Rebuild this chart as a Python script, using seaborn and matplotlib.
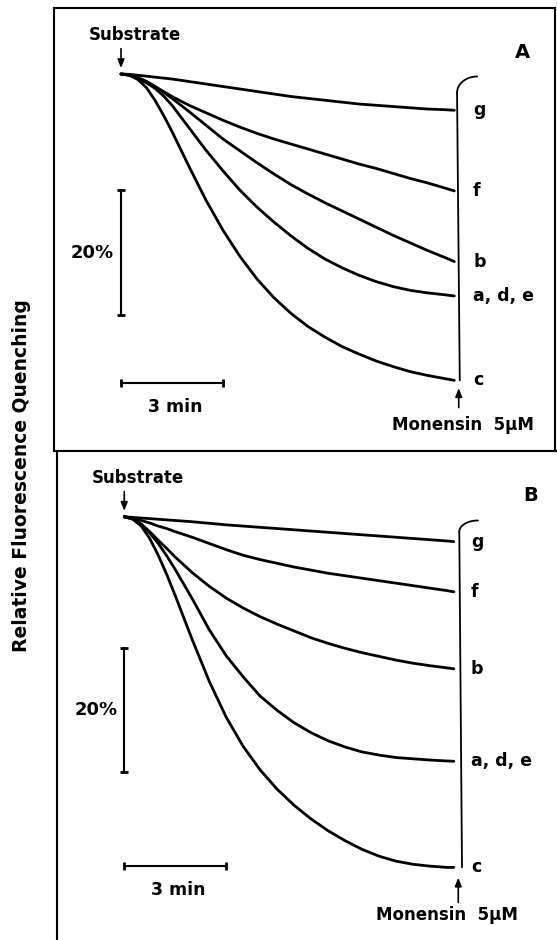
import numpy as np
import pandas as pd
import seaborn as sns
import matplotlib.pyplot as plt

# time after substrate addition (min) and fluorescence quenching (%)
time_a = [0, 0.25, 0.5, 0.75, 1, 1.25, 1.5, 2, 2.5, 3, 3.5, 4, 4.5, 5,
          5.5, 6, 6.5, 7, 7.5, 8, 8.5, 9, 9.5, 9.8]
a_g = [0, 0.05, 0.2, 0.35, 0.5, 0.65, 0.8, 1.2, 1.6, 2.0, 2.4, 2.8, 3.2, 3.6,
       3.9, 4.2, 4.5, 4.8, 5.0, 5.2, 5.4, 5.6, 5.7, 5.8]
a_f = [0, 0.15, 0.6, 1.2, 2.0, 2.8, 3.6, 5.0, 6.2, 7.4, 8.5, 9.5, 10.4, 11.2,
       12.0, 12.8, 13.6, 14.4, 15.1, 15.9, 16.7, 17.4, 18.2, 18.7]
a_b = [0, 0.15, 0.6, 1.2, 2.0, 2.9, 3.9, 6.0, 8.2, 10.4, 12.3, 14.2, 16.0, 17.7,
       19.2, 20.6, 21.9, 23.2, 24.5, 25.8, 27.0, 28.2, 29.3, 30.0]
a_ade = [0, 0.2, 0.7, 1.4, 2.3, 3.5, 5.0, 8.6, 12.2, 15.5, 18.6, 21.3, 23.7, 25.9,
         27.9, 29.6, 31.0, 32.2, 33.2, 34.0, 34.6, 35.0, 35.3, 35.5]
a_c = [0, 0.2, 0.9, 2.2, 4.2, 6.6, 9.2, 14.8, 20.2, 25.0, 29.2, 32.8, 35.8, 38.3,
       40.4, 42.1, 43.6, 44.8, 45.9, 46.8, 47.6, 48.2, 48.7, 49.0]

time_b = [0, 0.25, 0.5, 0.75, 1, 1.25, 1.5, 2, 2.5, 3, 3.5, 4, 4.5, 5,
          5.5, 6, 6.5, 7, 7.5, 8, 8.5, 9, 9.5, 9.7]
b_g = [0, 0.1, 0.2, 0.3, 0.4, 0.5, 0.6, 0.8, 1.05, 1.3, 1.5, 1.7, 1.9, 2.1,
       2.3, 2.5, 2.7, 2.9, 3.1, 3.3, 3.5, 3.7, 3.9, 4.0]
b_f = [0, 0.2, 0.6, 1.0, 1.5, 1.9, 2.4, 3.3, 4.3, 5.3, 6.2, 6.9, 7.5, 8.1,
       8.6, 9.1, 9.5, 9.9, 10.3, 10.7, 11.1, 11.5, 11.9, 12.1]
b_b = [0, 0.3, 1.2, 2.4, 3.8, 5.1, 6.5, 9.0, 11.2, 13.1, 14.7, 16.1, 17.3, 18.4,
       19.5, 20.4, 21.2, 21.9, 22.5, 23.1, 23.6, 24.0, 24.35, 24.5]
b_ade = [0, 0.3, 1.2, 2.6, 4.3, 6.3, 8.5, 13.2, 18.2, 22.4, 25.8, 28.9, 31.2, 33.2,
         34.8, 36.1, 37.1, 37.9, 38.4, 38.8, 39.0, 39.2, 39.35, 39.4]
b_c = [0, 0.4, 1.5, 3.5, 6.2, 9.3, 12.7, 19.8, 26.5, 32.3, 37.0, 40.8, 43.9, 46.5,
       48.7, 50.6, 52.2, 53.6, 54.7, 55.5, 56.0, 56.3, 56.5, 56.5]

curve_labels = ["g", "f", "b", "a, d, e", "c"]

sns.set_style("white")
plt.rcParams["font.family"] = ["DejaVu Sans"]
plt.rcParams["font.weight"] = "bold"
plt.rcParams["text.color"] = "black"

fig = plt.figure(figsize=(5.57, 9.40), dpi=100)

# panel boxes placed in figure pixels
axA = fig.add_axes([54 / 557, 1 - 451 / 940, (555 - 54) / 557, (451 - 8) / 940])
axB = fig.add_axes([57 / 557, 0, 1 - 57 / 557 + 0.01, (940 - 451) / 940])


def draw_panel(ax, t, series, letter, xlim, ylim, bar_top, bar_y, brk, lab_x, mon):
    rows = []
    for name, q in zip(curve_labels, series):
        for ti, qi in zip(t, q):
            rows.append({"t": ti, "q": qi, "curve": name})
    df = pd.DataFrame(rows)
    sns.lineplot(data=df, x="t", y="q", units="curve", estimator=None,
                 color="black", lw=2.0, ax=ax, legend=False)
    ax.set_xlim(*xlim)
    ax.set_ylim(*ylim)
    ax.set_xticks([])
    ax.set_yticks([])
    ax.set_xlabel("")
    ax.set_ylabel("")
    for s in ax.spines.values():
        s.set_color("black")
        s.set_linewidth(1.5)

    # curve labels
    for name, q in zip(curve_labels, series):
        ax.text(lab_x, q[-1], name, fontsize=12.5, ha="left", va="center")

    # bracket at the trace ends
    tb, q_top, rx, ry = brk
    ax.plot([tb, tb + 0.08], [q_top, series[-1][-1]], color="black", lw=1.3)
    th = np.linspace(0, np.pi / 2, 20)
    ax.plot(tb + rx - rx * np.cos(th), q_top - ry * np.sin(th), color="black", lw=1.3)

    # substrate arrow
    ax.annotate("", xy=(0, -0.5), xytext=(0, -4.5),
                arrowprops=dict(arrowstyle="-|>,head_width=0.2,head_length=0.5",
                                color="black", lw=1.2))
    ax.text(0.4, -6.3, "Substrate", fontsize=12, ha="center", va="center")
    ax.text(xlim[1] - 0.95, -3.4, letter, fontsize=14, ha="center", va="center")

    # scale bars
    ax.plot([0, 0], [bar_top, bar_top + 20], color="black", lw=1.5,
            marker="_", ms=6, mew=2)
    ax.text(-0.2, bar_top + 10, "20%", fontsize=13, ha="right", va="center")
    ax.plot([0, 3], [bar_y, bar_y], color="black", lw=1.5,
            marker="|", ms=6, mew=2)
    ax.text(1.6, bar_y + 3.8, "3 min", fontsize=12.5, ha="center", va="center")

    # monensin arrow
    mx, q_tail, q_tip, tx, ty = mon
    ax.annotate("", xy=(mx, q_tip), xytext=(mx, q_tail),
                arrowprops=dict(arrowstyle="-|>,head_width=0.2,head_length=0.5",
                                color="black", lw=1.2))
    ax.text(tx, ty, "Monensin  5\u03bcM", fontsize=12, ha="center", va="center")


draw_panel(axA, time_a, [a_g, a_f, a_b, a_ade, a_c], "A",
           xlim=(-1.97, 12.76), ylim=(60.3, -10.56),
           bar_top=18.6, bar_y=49.4,
           brk=(9.88, 3.0, 0.59, 2.6), lab_x=10.35,
           mon=(9.93, 53.8, 49.8, 10.06, 56.2))

draw_panel(axB, time_b, [b_g, b_f, b_b, b_ade, b_c], "B",
           xlim=(-1.98, 12.9), ylim=(68.2, -10.6),
           bar_top=21.1, bar_y=56.3,
           brk=(9.86, 2.4, 0.55, 1.8), lab_x=10.2,
           mon=(9.83, 62.6, 57.7, 9.5, 64.2))
axB.spines["right"].set_visible(False)
axB.spines["bottom"].set_visible(False)

fig.text(22 / 557, 1 - 476 / 940, "Relative Fluorescence Quenching",
         rotation=90, fontsize=13.5, ha="center", va="center")

fig.savefig("out.png", dpi=100)
